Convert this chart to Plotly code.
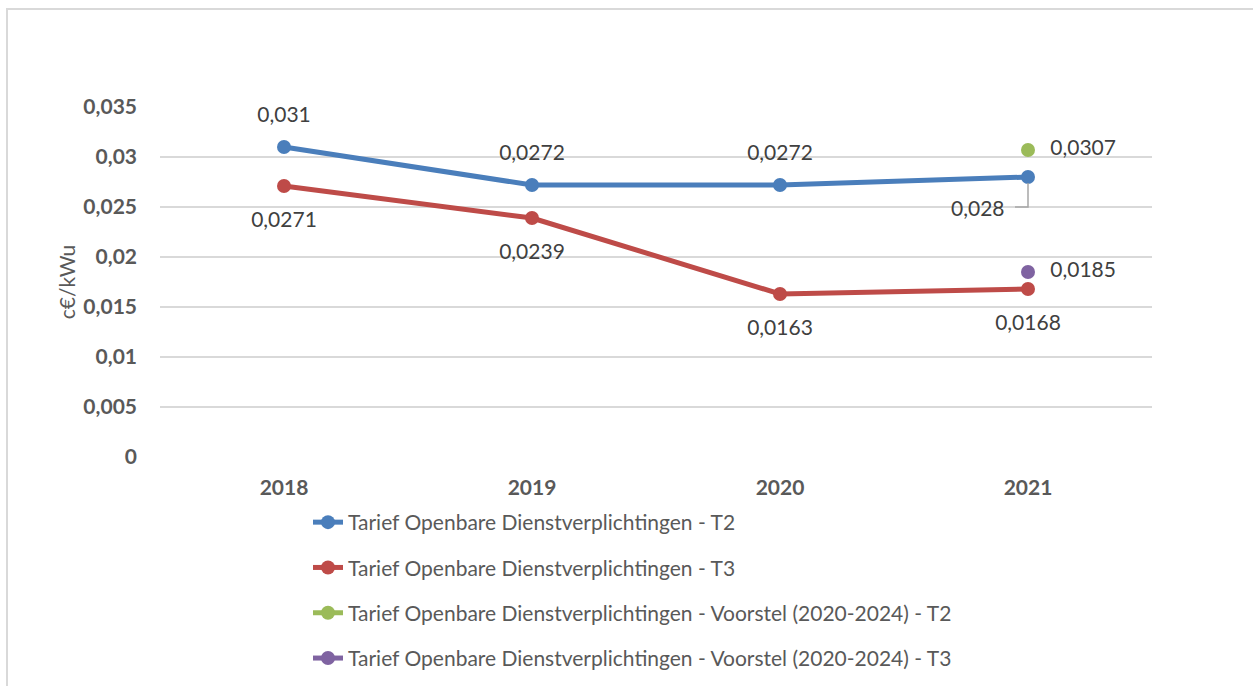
import plotly.graph_objects as go

years = ["2018", "2019", "2020", "2021"]
t2 = [0.031, 0.0272, 0.0272, 0.028]
t3 = [0.0271, 0.0239, 0.0163, 0.0168]
voorstel_years = ["2021"]
voorstel_t2 = [0.0307]
voorstel_t3 = [0.0185]
names = [
    "Tarief Openbare Dienstverplichtingen - T2",
    "Tarief Openbare Dienstverplichtingen - T3",
    "Tarief Openbare Dienstverplichtingen - Voorstel (2020-2024) - T2",
    "Tarief Openbare Dienstverplichtingen - Voorstel (2020-2024) - T3",
]
colors = ["#4A7EBB", "#BE4B48", "#9BBB59", "#7F63A1"]

def fmt(v):
    return str(v).replace(".", ",")

FONT = "Lato, 'Open Sans', sans-serif"
W, H = 1253, 686
L, R, T, B = 160, 101, 107, 229
pw, ph = W - L - R, H - T - B

fig = go.Figure()
lab = dict(size=21, color="#404040", family=FONT)
series = [(years, t2), (years, t3), (voorstel_years, voorstel_t2), (voorstel_years, voorstel_t3)]
for i, (xs, ys) in enumerate(series):
    fig.add_trace(go.Scatter(
        x=xs, y=ys, name=names[i], mode="lines+markers",
        line=dict(color=colors[i], width=5), marker=dict(size=14, color=colors[i]),
        legendgroup=str(i)))

# data labels: text placed by plotly relative to an invisible (larger) marker
def labels(xs, ys, pos, size):
    fig.add_trace(go.Scatter(
        x=xs, y=ys, mode="markers+text", text=[fmt(v) for v in ys],
        textposition=pos, textfont=lab,
        marker=dict(size=size, color="rgba(0,0,0,0)"),
        showlegend=False, hoverinfo="skip", cliponaxis=False))

labels(years[:3], t2[:3], "top center", 30)
labels(years, t3, "bottom center", 38)
labels(voorstel_years, voorstel_t2, "middle right", 34)
labels(voorstel_years, voorstel_t3, "middle right", 34)
labels(years[3:], t2[3:], "bottom left", 36)

# leader line for the 2021 T2 label, anchored to the data point
fig.add_shape(type="path", xref="x", yref="y", xsizemode="pixel", ysizemode="pixel",
              xanchor=3, yanchor=t2[3], path="M -13,-30 L 0,-30 L 0,-6",
              line=dict(color="#A6A6A6", width=1.5))

fig.add_shape(type="rect", xref="paper", yref="paper",
              x0=(7 - L) / pw, x1=(1275 - L) / pw,
              y0=-(720 - (T + ph)) / ph, y1=((T + ph) - 9) / ph,
              line=dict(color="#D9D9D9", width=2), fillcolor="rgba(0,0,0,0)",
              layer="below")

fig.update_layout(
    width=W, height=H, margin=dict(l=L, r=R, t=T, b=B, autoexpand=False),
    plot_bgcolor="white", paper_bgcolor="white",
    separators=",.",
    font=dict(family=FONT, color="#595959"),
    showlegend=True,
    legend=dict(x=(308 - L) / pw, y=-(502 - (T + ph)) / ph,
                xanchor="left", yanchor="top",
                orientation="v", font=dict(size=21, color="#595959", family=FONT),
                tracegroupgap=15, bgcolor="rgba(0,0,0,0)"),
    xaxis=dict(type="category", range=[-0.5, 3.5], showgrid=False, showline=False,
               zeroline=False, ticks="", ticklabelstandoff=16,
               tickfont=dict(size=21, color="#595959", family=FONT, weight="bold")),
    yaxis=dict(range=[0, 0.035], dtick=0.005, tick0=0, showgrid=True, gridcolor="#D9D9D9",
               gridwidth=1.5, zeroline=False, showline=False, ticks="",
               ticklabelstandoff=22,
               tickfont=dict(size=21, color="#595959", family=FONT, weight="bold"),
               title=dict(text="c€/kWu", font=dict(size=21, color="#595959", family=FONT),
                          standoff=2)),
)

fig.write_html("out.html", config={"displayModeBar": False},
               post_script="document.body.style.margin='0px';")
